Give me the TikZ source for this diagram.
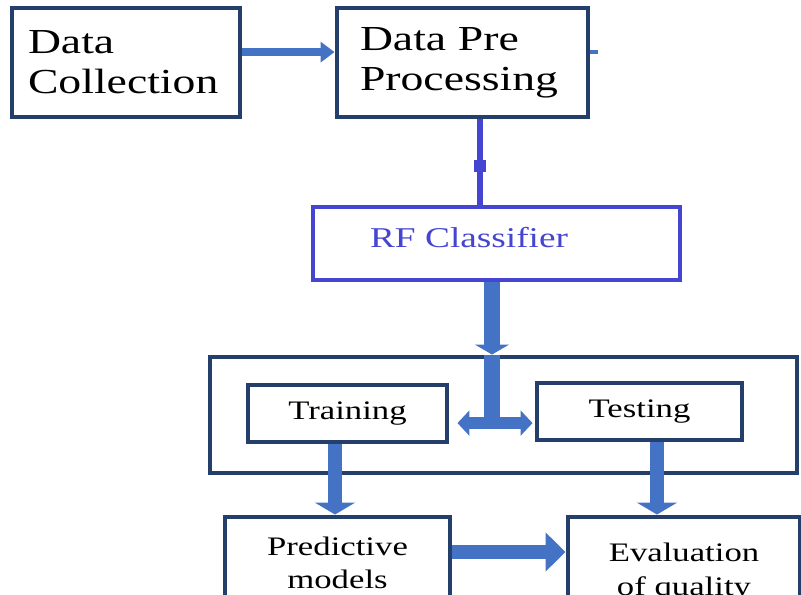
\documentclass[tikz,border=0pt]{standalone}
\usepackage{fontspec}
\setmainfont[FakeStretch=1.3]{Liberation Serif}
\usepackage{xcolor}
\usetikzlibrary{positioning, arrows.meta, calc}
\definecolor{navy}{HTML}{24406A}
\definecolor{arrowblue}{HTML}{4472C4}
\definecolor{rfblue}{HTML}{4545D2}

\begin{document}
\begin{tikzpicture}[thick]
        \useasboundingbox (0,0) rectangle (20.025,14.875);

        % Block definitions
        \tikzstyle{block} = [draw=navy, line width=3.5pt, rectangle, fill=white, inner sep=0pt, align=left, font=\fontsize{25}{28.5}\selectfont]
        \tikzstyle{subblock} = [draw=navy, line width=3.5pt, rectangle, fill=white, inner sep=0pt, align=center, font=\fontsize{19}{24}\selectfont]
        \tikzstyle{conn} = [arrowblue, line width=10pt]

        % Blocks
        \node[block, minimum width=5.7cm, minimum height=2.725cm, text width=4.9cm] (collect) at (3.15,13.3125) {Data\\Collection};
        \node[block, minimum width=6.275cm, minimum height=2.725cm, text width=5.125cm] (pre) at (11.5625,13.3125) {Data Pre\\Processing};
        \node[block, draw=rfblue, line width=2.8pt, text=rfblue, minimum width=9.175cm, minimum height=1.825cm, text width=6.325cm, text depth=0.3cm, font=\fontsize{20.4}{24}\selectfont] (rf) at (12.4125,8.7875) {RF Classifier};

        % Training / testing stage
        \node[draw=navy, line width=3.5pt, minimum width=14.675cm, minimum height=2.9cm] (stage) at (12.5875,4.5) {};
        \node[subblock, minimum width=4.975cm, minimum height=1.425cm] (train) at (8.6875,4.5375) {Training};
        \node[subblock, minimum width=5.125cm, minimum height=1.425cm] (test) at (15.9875,4.5875) {Testing};

        % Results
        \node[subblock, minimum width=5.625cm, minimum height=2.3cm] (predict) at (8.4375,0.8) {Predictive\\models};
        \node[subblock, minimum width=5.8cm, minimum height=2.75cm] (eval) at (17.1,0.575) {Evaluation\\of quality};

        \coordinate (stub) at ($(pre.east)+(0.2,0.26)$);
        \coordinate (split) at ($(rf.south |- train.east)+(-0.1125,-0.24)$);

        % Arrows
        \draw[conn, line width=5.7pt, -{Triangle[length=0.35cm,width=0.5cm]}] ([yshift=0.26cm]collect.east) -- ([yshift=0.26cm]pre.west);
        \draw[arrowblue, line width=3pt] ([yshift=0.26cm]pre.east) -- (stub);
        \draw[rfblue, line width=4.3pt] ([xshift=0.4375cm]pre.south) -- ([xshift=0.4375cm]pre.south |- rf.north)
            node[pos=0.544, fill=rfblue, minimum width=0.3cm, minimum height=0.3cm, inner sep=0pt] (joint) {};
        \draw[conn, line width=11pt, -{Triangle[length=0.25cm,width=0.85cm]}] ([xshift=-0.1125cm]rf.south) -- ([xshift=-0.1125cm]rf.south |- stage.north);
        \draw[conn, line width=11pt] ([xshift=-0.1125cm]rf.south |- stage.north) -- (split);
        \draw[conn, line width=8.5pt, {Triangle[length=0.3cm,width=0.62cm]}-{Triangle[length=0.3cm,width=0.62cm]}] ([xshift=0.2cm]train.east |- split) -- ([xshift=-0.05cm]test.west |- split);
        \draw[conn, -{Triangle[length=0.3cm,width=1.0cm]}] ([xshift=-0.3125cm]train.south) -- ([xshift=-0.3125cm]train.south |- predict.north);
        \draw[conn, -{Triangle[length=0.3cm,width=1.0cm]}] ([xshift=0.4375cm]test.south) -- ([xshift=0.4375cm]test.south |- eval.north);
        \draw[conn, -{Triangle[length=0.5cm,width=0.95cm]}] ([yshift=0.275cm]predict.east) -- ([yshift=0.275cm]predict.east -| eval.west);

    \end{tikzpicture}
\end{document}
